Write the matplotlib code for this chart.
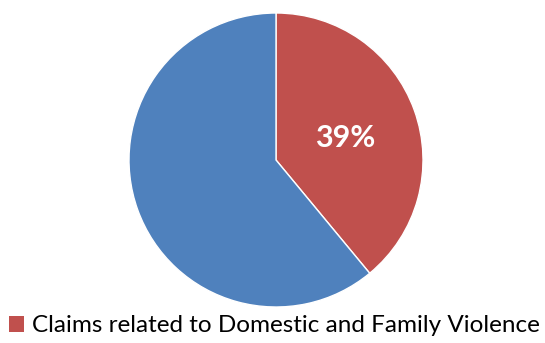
import matplotlib
matplotlib.use("Agg")
import matplotlib.pyplot as plt
from matplotlib.patches import Patch

labels = ["Claims related to Domestic and Family Violence", "Other claims"]
values = [39, 61]
colors = ["#C0504D", "#4F81BD"]

plt.rcParams['font.family'] = ['Lato', 'DejaVu Sans']

fig = plt.figure(figsize=(5.45, 3.43), dpi=100)
W, H = 545, 343
cx, cy, r = 276, 160, 147
ax = fig.add_axes([(cx - r) / W, (H - cy - r) / H, 2 * r / W, 2 * r / H])
wedges, _ = ax.pie(values, colors=colors, startangle=90, counterclock=False,
                   wedgeprops=dict(edgecolor="white", linewidth=1))
ax.set_xlim(-1, 1)
ax.set_ylim(-1, 1)
ax.set_aspect('auto')
ax.text(0.47, 0.15, f"{values[0]}%", color="white", fontsize=22, fontweight="bold",
        ha="center", va="center")

fig.legend(handles=[Patch(facecolor=colors[0], edgecolor="none")], labels=[labels[0]],
           loc="center left", bbox_to_anchor=(9 / W, 1 - 326 / H), frameon=False,
           fontsize=17.5, handlelength=0.6, handleheight=0.6, handletextpad=0.35,
           borderpad=0, borderaxespad=0)
fig.savefig("out.png", dpi=100)
